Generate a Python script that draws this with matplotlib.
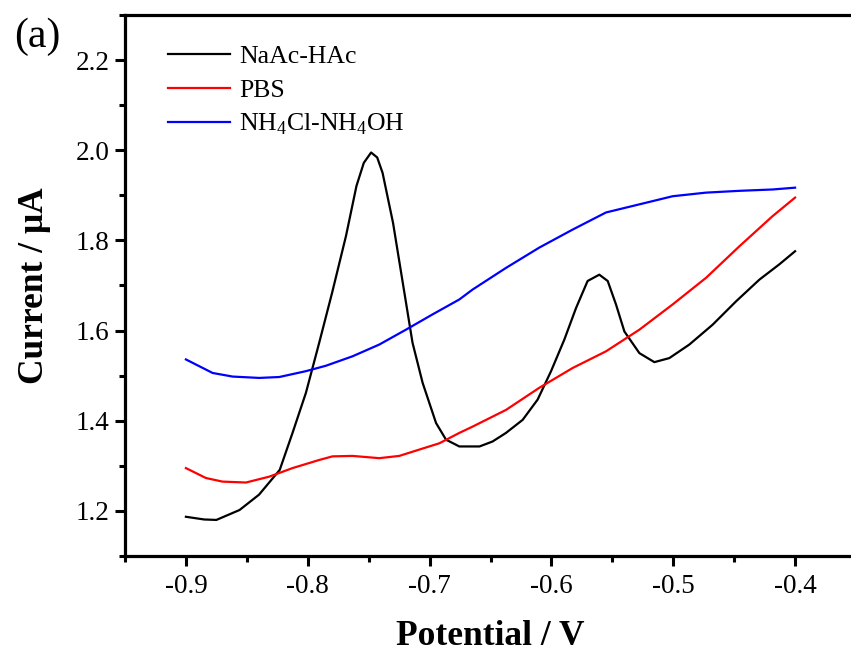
import matplotlib.pyplot as plt
from matplotlib.ticker import MultipleLocator

plt.rcParams['font.family'] = ['Liberation Serif', 'DejaVu Serif']
plt.rcParams['mathtext.fontset'] = 'custom'
plt.rcParams['mathtext.rm'] = 'Liberation Serif'

# NaAc-HAc (black)
x_nac = [-0.900, -0.885, -0.875, -0.856, -0.840, -0.823, -0.8125, -0.8015, -0.7906, -0.780,
         -0.7686, -0.760, -0.754, -0.748, -0.743, -0.7386, -0.730, -0.722, -0.714, -0.7057,
         -0.6947, -0.6865, -0.6756, -0.659, -0.6483, -0.6373, -0.6236, -0.6113, -0.6003, -0.5894,
         -0.5798, -0.5703, -0.5607, -0.5538, -0.547, -0.5401, -0.5278, -0.5155, -0.5032, -0.4868,
         -0.4677, -0.4484, -0.4293, -0.4129, -0.400]
y_nac = [1.187, 1.181, 1.180, 1.202, 1.236, 1.291, 1.373, 1.462, 1.573, 1.684,
         1.810, 1.921, 1.972, 1.995, 1.984, 1.950, 1.839, 1.706, 1.573, 1.484,
         1.395, 1.358, 1.343, 1.343, 1.354, 1.373, 1.402, 1.447, 1.510, 1.580,
         1.650, 1.710, 1.724, 1.710, 1.658, 1.598, 1.550, 1.530, 1.539, 1.569,
         1.613, 1.665, 1.713, 1.747, 1.776]

# PBS (red)
x_pbs = [-0.900, -0.8836, -0.870, -0.8507, -0.8316, -0.8125, -0.7906, -0.7797, -0.7632, -0.7413,
         -0.7249, -0.7085, -0.692, -0.6756, -0.6647, -0.6373, -0.610, -0.5826, -0.5552, -0.5278,
         -0.5005, -0.4731, -0.4457, -0.4184, -0.400]
y_pbs = [1.295, 1.273, 1.265, 1.263, 1.276, 1.295, 1.313, 1.321, 1.322, 1.317,
         1.322, 1.336, 1.350, 1.373, 1.387, 1.424, 1.473, 1.517, 1.554, 1.602,
         1.658, 1.717, 1.787, 1.854, 1.895]

# NH4Cl-NH4OH (blue)
x_nh4 = [-0.900, -0.8781, -0.8617, -0.8398, -0.8234, -0.8015, -0.7851, -0.7632, -0.7413, -0.7194,
         -0.6975, -0.6756, -0.6647, -0.6373, -0.610, -0.5826, -0.5552, -0.5278, -0.5005, -0.4731,
         -0.4457, -0.4184, -0.400]
y_nh4 = [1.536, 1.506, 1.498, 1.495, 1.497, 1.510, 1.522, 1.543, 1.569, 1.602,
         1.636, 1.669, 1.691, 1.739, 1.784, 1.824, 1.862, 1.880, 1.898, 1.906,
         1.910, 1.913, 1.917]

fig = plt.figure(figsize=(8.51, 6.57), dpi=100)
ax = fig.add_axes([125 / 851, 101 / 657, 731 / 851, 541 / 657])

ax.plot(x_nac, y_nac, color='black', lw=1.6, label='NaAc-HAc')
ax.plot(x_pbs, y_pbs, color='red', lw=1.6, label='PBS')
ax.plot(x_nh4, y_nh4, color='blue', lw=1.6, label=r'NH$_4$Cl-NH$_4$OH')

ax.set_xlim(-0.95, -0.35)
ax.set_ylim(1.1, 2.3)
ax.xaxis.set_minor_locator(MultipleLocator(0.05))
ax.yaxis.set_minor_locator(MultipleLocator(0.1))
ax.set_xticks([-0.9, -0.8, -0.7, -0.6, -0.5, -0.4])
ax.set_xticklabels(['-0.9', '-0.8', '-0.7', '-0.6', '-0.5', '-0.4'])
ax.set_yticks([1.2, 1.4, 1.6, 1.8, 2.0, 2.2])
ax.set_yticklabels(['1.2', '1.4', '1.6', '1.8', '2.0', '2.2'])

for s in ['left', 'bottom', 'top']:
    ax.spines[s].set_linewidth(2.3)
ax.spines['right'].set_visible(False)

ax.tick_params(which='major', direction='out', length=7, width=2.2, labelsize=19.5)
ax.tick_params(axis='x', which='major', pad=6)
ax.tick_params(axis='y', which='major', pad=4)
ax.tick_params(which='minor', direction='out', length=4.5, width=2.2)
ax.tick_params(top=False, right=False)

ax.set_xlabel('Potential / V', fontsize=25.5, fontweight='bold', labelpad=15)
ax.set_ylabel('Current / μA', fontsize=25.5, fontweight='bold', labelpad=18)

ax.legend(loc='upper left', bbox_to_anchor=(0.045, 0.963), frameon=False, fontsize=18.5,
          handlelength=2.4, handletextpad=0.35, labelspacing=0.4, borderaxespad=0)

fig.text(14 / 851, 1 - 47 / 657, '(a)', fontsize=30)

fig.savefig('out.png', dpi=100)
